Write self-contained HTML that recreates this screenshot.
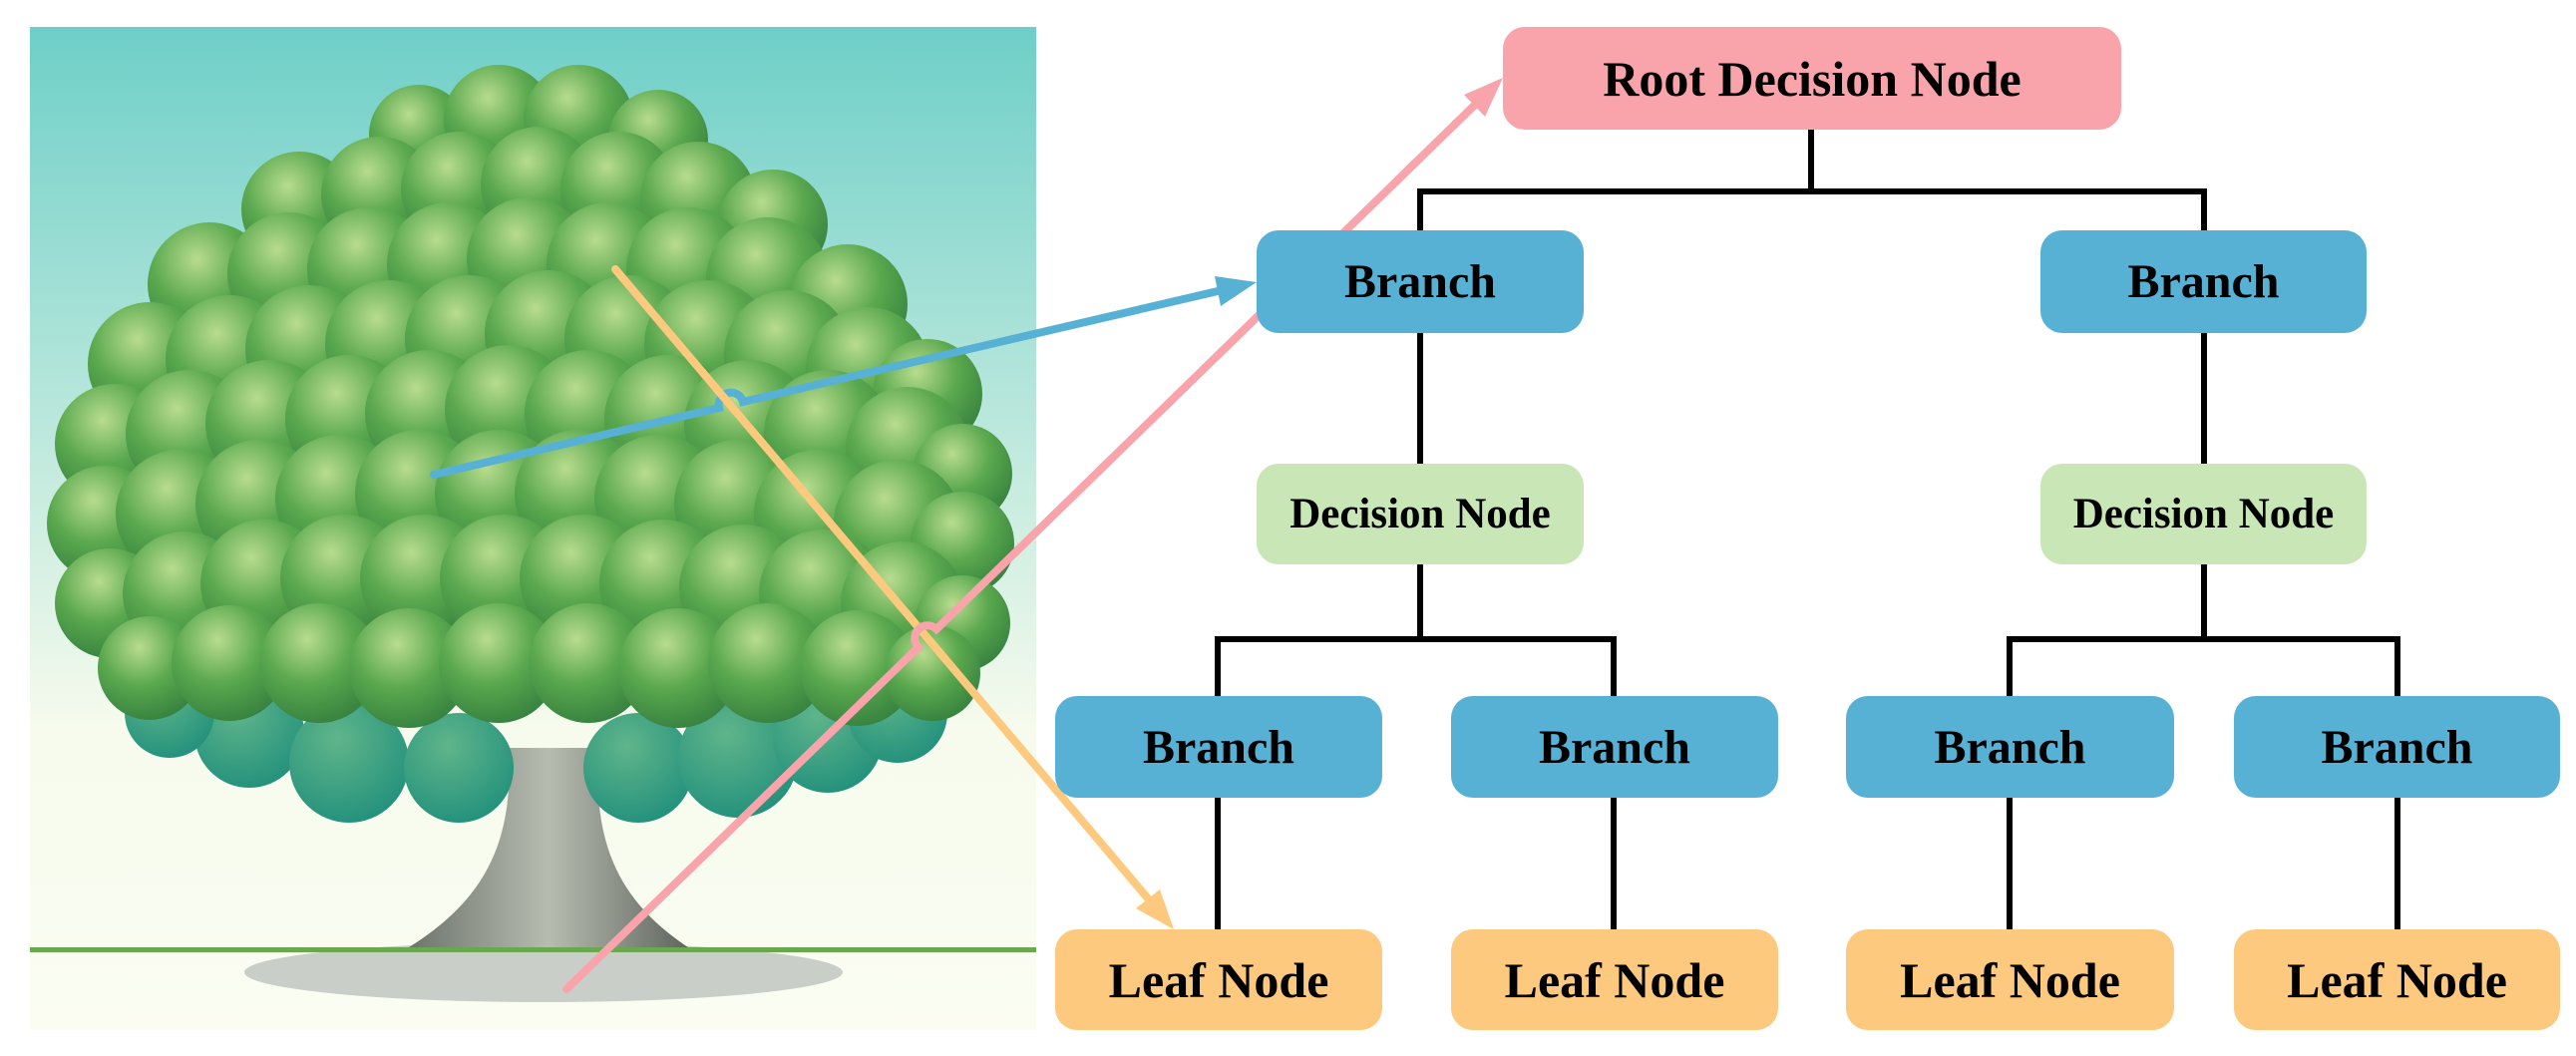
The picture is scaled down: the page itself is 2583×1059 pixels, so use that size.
<!DOCTYPE html>
<html><head><meta charset="utf-8"><style>
html,body{margin:0;padding:0;background:#fff;}
#c{position:relative;width:2583px;height:1059px;overflow:hidden;background:#fff;}
.n{position:absolute;border-radius:22px;display:flex;align-items:center;justify-content:center;font-family:"Liberation Serif",serif;font-weight:bold;color:#000;}
.b{background:#57b1d4;font-size:48px;}
.l{background:#fdc97e;font-size:50px;}
.d{background:#c9e6b6;font-size:43px;}
svg{position:absolute;left:0;top:0;}
</style></head><body><div id="c">
<svg width="2583" height="1059" viewBox="0 0 2583 1059">
<defs>
<linearGradient id="sky" x1="0" y1="0" x2="0" y2="1">
<stop offset="0" stop-color="#6ecfc8"/><stop offset="0.45" stop-color="#c6ebdf"/><stop offset="0.7" stop-color="#f6fbed"/><stop offset="1" stop-color="#fbfdf2"/></linearGradient>
<radialGradient id="g" cx="0.4" cy="0.3" r="0.75">
<stop offset="0" stop-color="#b8dc8e"/><stop offset="0.5" stop-color="#5aa84e"/><stop offset="1" stop-color="#347f3f"/></radialGradient>
<radialGradient id="t" cx="0.4" cy="0.3" r="0.75">
<stop offset="0" stop-color="#5fb58a"/><stop offset="1" stop-color="#22907c"/></radialGradient>
<linearGradient id="tr" x1="0" y1="0" x2="1" y2="0">
<stop offset="0" stop-color="#6d746c"/><stop offset="0.5" stop-color="#b7bcb0"/><stop offset="1" stop-color="#5f665f"/></linearGradient>
</defs>
<rect x="30" y="27" width="1009" height="1006" fill="url(#sky)"/>
<ellipse cx="545" cy="975" rx="300" ry="30" fill="#9aa0a0" opacity="0.5"/>
<rect x="30" y="950" width="1009" height="5" fill="#6aa84f"/>
<path d="M510,750 C515,840 490,900 410,950 L690,950 C615,900 595,840 600,750 Z" fill="url(#tr)"/>
<g transform="translate(0,25)">
<g fill="url(#t)">
<circle cx="250" cy="710" r="55"/><circle cx="350" cy="740" r="60"/><circle cx="460" cy="745" r="55"/><circle cx="640" cy="745" r="55"/><circle cx="740" cy="735" r="60"/><circle cx="830" cy="715" r="55"/><circle cx="900" cy="690" r="50"/><circle cx="170" cy="690" r="45"/>
</g>
<g fill="url(#g)">
<circle cx="420" cy="110" r="50"/><circle cx="500" cy="95" r="55"/><circle cx="580" cy="95" r="55"/><circle cx="660" cy="115" r="50"/>
<circle cx="300" cy="185" r="58"/><circle cx="380" cy="170" r="58"/><circle cx="460" cy="165" r="58"/><circle cx="540" cy="160" r="58"/><circle cx="620" cy="165" r="58"/><circle cx="700" cy="175" r="58"/><circle cx="775" cy="200" r="55"/>
<circle cx="210" cy="260" r="62"/><circle cx="290" cy="250" r="62"/><circle cx="370" cy="245" r="62"/><circle cx="450" cy="240" r="62"/><circle cx="530" cy="235" r="62"/><circle cx="610" cy="240" r="62"/><circle cx="690" cy="245" r="62"/><circle cx="770" cy="255" r="62"/><circle cx="850" cy="280" r="60"/>
<circle cx="150" cy="340" r="62"/><circle cx="230" cy="335" r="64"/><circle cx="310" cy="325" r="64"/><circle cx="390" cy="320" r="64"/><circle cx="470" cy="315" r="64"/><circle cx="550" cy="310" r="64"/><circle cx="630" cy="315" r="64"/><circle cx="710" cy="320" r="64"/><circle cx="790" cy="330" r="64"/><circle cx="870" cy="345" r="62"/><circle cx="930" cy="370" r="55"/>
<circle cx="115" cy="420" r="60"/><circle cx="190" cy="410" r="64"/><circle cx="270" cy="400" r="64"/><circle cx="350" cy="395" r="64"/><circle cx="430" cy="390" r="64"/><circle cx="510" cy="385" r="64"/><circle cx="590" cy="390" r="64"/><circle cx="670" cy="395" r="64"/><circle cx="750" cy="400" r="64"/><circle cx="830" cy="410" r="64"/><circle cx="910" cy="425" r="62"/><circle cx="965" cy="450" r="50"/>
<circle cx="105" cy="500" r="58"/><circle cx="180" cy="490" r="64"/><circle cx="260" cy="480" r="64"/><circle cx="340" cy="475" r="64"/><circle cx="420" cy="470" r="64"/><circle cx="500" cy="470" r="64"/><circle cx="580" cy="470" r="64"/><circle cx="660" cy="475" r="64"/><circle cx="740" cy="480" r="64"/><circle cx="820" cy="490" r="64"/><circle cx="900" cy="500" r="64"/><circle cx="965" cy="520" r="52"/>
<circle cx="110" cy="580" r="55"/><circle cx="185" cy="570" r="62"/><circle cx="265" cy="560" r="64"/><circle cx="345" cy="555" r="64"/><circle cx="425" cy="555" r="64"/><circle cx="505" cy="555" r="64"/><circle cx="585" cy="555" r="64"/><circle cx="665" cy="560" r="64"/><circle cx="745" cy="565" r="64"/><circle cx="825" cy="570" r="64"/><circle cx="905" cy="580" r="62"/><circle cx="965" cy="600" r="48"/>
<circle cx="150" cy="645" r="52"/><circle cx="230" cy="640" r="58"/><circle cx="320" cy="640" r="60"/><circle cx="410" cy="645" r="60"/><circle cx="500" cy="640" r="60"/><circle cx="590" cy="640" r="60"/><circle cx="680" cy="645" r="60"/><circle cx="770" cy="640" r="60"/><circle cx="860" cy="645" r="58"/><circle cx="935" cy="650" r="48"/>
</g>
</g>
<g fill="none" stroke-width="8" stroke-linecap="round">
<path d="M435,476 L721,409 A12,12 0 0 1 745,403 L1221,292" stroke="#57b1d4"/>
<path d="M617,270 L1151,901" stroke="#fdc97e"/>
<path d="M568,992 L921,649 A12,12 0 0 1 939,631 L1478,106" stroke="#f9a3ab"/>
</g>
<polygon points="1260,283 1224,307 1218,277" fill="#57b1d4"/>
<polygon points="1177,932 1139,911 1163,892" fill="#fdc97e"/>
<polygon points="1507,78 1489,117 1468,95" fill="#f9a3ab"/>
<g fill="none" stroke="#000" stroke-width="6">
<path d="M1816,128 V192 M1424,192 H2210 M1424,189 V232 M2210,189 V232"/>
<path d="M1424,334 V466 M2210,334 V466"/>
<path d="M1424,566 V641 M1221,641 H1618 M1221,638 V699 M1618,638 V699"/>
<path d="M2210,566 V641 M2015,641 H2404 M2015,638 V699 M2404,638 V699"/>
<path d="M1221,800 V933 M1618,800 V933 M2015,800 V933 M2404,800 V933"/>
</g>
</svg>
<div class="n" style="left:1507px;top:27px;width:620px;height:103px;background:#f9a3ab;font-size:50px;">Root Decision Node</div>
<div class="n b" style="left:1260px;top:231px;width:328px;height:103px;">Branch</div>
<div class="n b" style="left:2046px;top:231px;width:327px;height:103px;">Branch</div>
<div class="n d" style="left:1260px;top:465px;width:328px;height:101px;">Decision Node</div>
<div class="n d" style="left:2046px;top:465px;width:327px;height:101px;">Decision Node</div>
<div class="n b" style="left:1058px;top:698px;width:328px;height:102px;">Branch</div>
<div class="n b" style="left:1455px;top:698px;width:328px;height:102px;">Branch</div>
<div class="n b" style="left:1851px;top:698px;width:329px;height:102px;">Branch</div>
<div class="n b" style="left:2240px;top:698px;width:327px;height:102px;">Branch</div>
<div class="n l" style="left:1058px;top:932px;width:328px;height:101px;">Leaf Node</div>
<div class="n l" style="left:1455px;top:932px;width:328px;height:101px;">Leaf Node</div>
<div class="n l" style="left:1851px;top:932px;width:329px;height:101px;">Leaf Node</div>
<div class="n l" style="left:2240px;top:932px;width:327px;height:101px;">Leaf Node</div>
</div></body></html>
